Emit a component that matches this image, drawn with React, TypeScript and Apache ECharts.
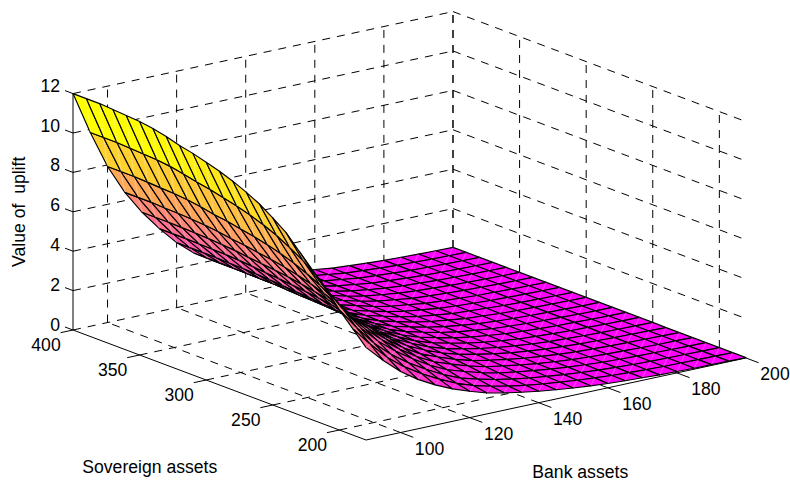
import React, { useEffect, useRef } from "react";
import * as echarts from "echarts";

const bankAssets = [90,95,100,105,110,115,120,125,130,135,140,145,150,155,160,165,170,175,180,185,190,195,200];
const sovereignAssets = [400,390,380,370,360,350,340,330,320,310,300,290,280,270,260,250,240,230,220,210,200,190,180];
// one row per bank value, columns follow sovereignAssets
const upliftRows = [
[12.0,12.0,12.0,11.95,11.9,11.85,11.75,11.6,11.4,11.25,11.05,10.85,10.6,10.3,9.95,9.5,9.0,8.3,7.6,6.9,6.1,5.4,4.7],
[9.84,9.84,9.84,9.80,9.76,9.72,9.64,9.51,9.35,9.23,9.06,8.90,8.69,8.45,8.16,7.79,7.38,6.81,6.23,5.66,5.00,4.43,3.85],
[7.92,7.92,7.92,7.89,7.85,7.82,7.76,7.66,7.52,7.43,7.29,7.16,7.00,6.80,6.57,6.27,5.94,5.48,5.02,4.55,4.03,3.56,3.10],
[6.42,6.42,6.42,6.39,6.37,6.34,6.29,6.21,6.10,6.02,5.91,5.80,5.67,5.51,5.32,5.08,4.82,4.44,4.07,3.69,3.26,2.89,2.51],
[5.22,5.22,5.22,5.20,5.18,5.15,5.11,5.05,4.96,4.89,4.81,4.72,4.61,4.48,4.33,4.13,3.92,3.61,3.31,3.00,2.65,2.35,2.04],
[4.20,4.20,4.20,4.18,4.17,4.15,4.11,4.06,3.99,3.94,3.87,3.80,3.71,3.61,3.48,3.33,3.15,2.91,2.66,2.42,2.14,1.89,1.65],
[3.30,3.30,3.30,3.29,3.27,3.26,3.23,3.19,3.14,3.09,3.04,2.98,2.92,2.83,2.74,2.61,2.48,2.28,2.09,1.90,1.68,1.49,1.34],
[2.58,2.58,2.58,2.57,2.56,2.55,2.53,2.49,2.45,2.42,2.38,2.33,2.28,2.21,2.14,2.04,1.94,1.78,1.63,1.48,1.31,1.18,1.06],
[2.04,2.04,2.04,2.03,2.02,2.01,2.00,1.97,1.94,1.91,1.88,1.84,1.80,1.75,1.69,1.62,1.53,1.43,1.32,1.20,1.07,0.96,0.88],
[1.56,1.56,1.56,1.55,1.55,1.54,1.53,1.51,1.48,1.46,1.44,1.41,1.38,1.34,1.30,1.25,1.19,1.12,1.04,0.95,0.86,0.78,0.72],
[1.20,1.20,1.20,1.20,1.19,1.19,1.18,1.16,1.14,1.13,1.11,1.09,1.07,1.04,1.01,0.97,0.93,0.87,0.81,0.75,0.69,0.63,0.58],
[0.96,0.96,0.96,0.96,0.95,0.95,0.94,0.93,0.91,0.90,0.88,0.87,0.85,0.83,0.80,0.77,0.74,0.70,0.66,0.61,0.56,0.51,0.47],
[0.72,0.72,0.72,0.72,0.71,0.71,0.71,0.70,0.69,0.68,0.67,0.66,0.65,0.63,0.62,0.60,0.58,0.55,0.52,0.49,0.45,0.41,0.37],
[0.54,0.54,0.54,0.54,0.54,0.53,0.53,0.52,0.52,0.51,0.51,0.50,0.49,0.48,0.47,0.46,0.44,0.42,0.40,0.38,0.35,0.32,0.29],
[0.42,0.42,0.42,0.42,0.41,0.41,0.41,0.41,0.40,0.39,0.39,0.38,0.38,0.37,0.36,0.35,0.34,0.33,0.31,0.29,0.27,0.25,0.22],
[0.30,0.30,0.30,0.30,0.30,0.30,0.29,0.29,0.29,0.28,0.28,0.28,0.27,0.27,0.26,0.26,0.25,0.24,0.23,0.22,0.20,0.18,0.17],
[0.24,0.24,0.24,0.24,0.23,0.23,0.23,0.23,0.22,0.22,0.22,0.21,0.21,0.21,0.20,0.19,0.19,0.18,0.17,0.16,0.15,0.14,0.13],
[0.18,0.18,0.18,0.18,0.18,0.18,0.17,0.17,0.17,0.17,0.16,0.16,0.16,0.15,0.15,0.15,0.14,0.14,0.13,0.12,0.11,0.10,0.09],
[0.13,0.13,0.13,0.13,0.13,0.13,0.13,0.12,0.12,0.12,0.12,0.12,0.12,0.11,0.11,0.11,0.11,0.10,0.10,0.09,0.08,0.07,0.07],
[0.10,0.10,0.10,0.10,0.10,0.10,0.10,0.10,0.09,0.09,0.09,0.09,0.09,0.09,0.09,0.08,0.08,0.08,0.07,0.07,0.06,0.06,0.05],
[0.07,0.07,0.07,0.07,0.07,0.07,0.07,0.07,0.07,0.07,0.07,0.07,0.06,0.06,0.06,0.06,0.06,0.06,0.05,0.05,0.05,0.04,0.04],
[0.05,0.05,0.05,0.05,0.05,0.05,0.05,0.05,0.05,0.05,0.05,0.04,0.04,0.04,0.04,0.04,0.04,0.04,0.04,0.03,0.03,0.03,0.03],
[0.03,0.03,0.03,0.03,0.03,0.03,0.03,0.03,0.03,0.03,0.03,0.03,0.03,0.03,0.03,0.03,0.02,0.02,0.02,0.02,0.02,0.02,0.02],
];

const bankTicks = [100,120,140,160,180,200];
const sovereignTicks = [400,350,300,250,200];
const upliftTicks = [0,2,4,6,8,10,12];
const axisNames = { bank: "Bank assets", sovereign: "Sovereign assets", uplift: "Value of  uplift" };

const BANK_MIN = 90, BANK_MAX = 200, SOV_MIN = 180, SOV_MAX = 400, Z_MAX = 12;
const FONT = '17.6px "Liberation Sans", Arial, sans-serif';

// orthographic view of the box: returns a point in the plane of the hidden cartesian axes
const project = (b: number, s: number, z: number): number[] => [
  73 + (b - BANK_MIN) * 3.4545 + (SOV_MAX - s) * 1.3318,
  330 - (b - BANK_MIN) * 0.7455 + (SOV_MAX - s) * 0.5 - z * 19.7,
];

type Seg = [number, number, number, number, number, number];
const gridSegs: Seg[] = [];
upliftTicks.forEach((z) => {
  gridSegs.push([BANK_MIN, SOV_MAX, z, BANK_MAX, SOV_MAX, z]);
  gridSegs.push([BANK_MAX, SOV_MAX, z, BANK_MAX, SOV_MIN, z]);
});
bankTicks.forEach((b) => {
  gridSegs.push([b, SOV_MAX, 0, b, SOV_MAX, Z_MAX]);
  if (b !== BANK_MAX) gridSegs.push([b, SOV_MIN, 0, b, SOV_MAX, 0]);
});
sovereignTicks.forEach((s) => {
  gridSegs.push([BANK_MAX, s, 0, BANK_MAX, s, Z_MAX]);
  if (s !== SOV_MAX) gridSegs.push([BANK_MIN, s, 0, BANK_MAX, s, 0]);
});

const axisSegs: Seg[] = [
  [BANK_MIN, SOV_MAX, 0, BANK_MIN, SOV_MIN, 0],
  [BANK_MIN, SOV_MIN, 0, BANK_MAX, SOV_MIN, 0],
  [BANK_MIN, SOV_MAX, 0, BANK_MIN, SOV_MAX, Z_MAX],
];
sovereignTicks.forEach((s) => axisSegs.push([BANK_MIN, s, 0, BANK_MIN - 3.6, s, 0]));
bankTicks.forEach((b) => axisSegs.push([b, SOV_MIN, 0, b, SOV_MIN - 9.5, 0]));
upliftTicks.forEach((z) => axisSegs.push([BANK_MIN, SOV_MAX, z, BANK_MIN, SOV_MAX + 6, z]));

const cells: number[][] = [];
for (let i = 0; i < sovereignAssets.length - 1; i++) {
  for (let j = bankAssets.length - 2; j >= 0; j--) cells.push([j, i]);
}

const spring = (z: number) => {
  const t = Math.min(1, Math.max(0, z / Z_MAX));
  return `rgb(255,${Math.round(255 * t)},${Math.round(255 * (1 - t))})`;
};

type Lbl = { text: string; p: number[]; dx: number; dy: number; align: string; rot?: number };
const labels: Lbl[] = [
  ...upliftTicks.map((z) => ({ text: String(z), p: [BANK_MIN, SOV_MAX, z], dx: -13, dy: -5 - z * 0.25, align: "right" })),
  ...sovereignTicks.map((s) => ({ text: String(s), p: [BANK_MIN, s, 0], dx: -27, dy: 15, align: "center" })),
  ...bankTicks.map((b) => ({ text: String(b), p: [b, SOV_MIN, 0], dx: 29, dy: 16, align: "center" })),
  { text: axisNames.sovereign, p: [BANK_MIN, 250, 0], dx: -123, dy: 62, align: "center" },
  { text: axisNames.bank, p: [150, SOV_MIN, 0], dx: 7, dy: 77, align: "center" },
  { text: axisNames.uplift, p: [BANK_MIN, SOV_MAX, 6], dx: -54, dy: 0, align: "center", rot: Math.PI / 2 },
];

const segRender = (segs: Seg[], lineDash: number[] | null, stroke: string, lineWidth: number) =>
  (params: any, api: any) => {
    const g = segs[params.dataIndex];
    const a = api.coord(project(g[0], g[1], g[2]));
    const b = api.coord(project(g[3], g[4], g[5]));
    return {
      type: "line",
      shape: { x1: a[0], y1: a[1], x2: b[0], y2: b[1] },
      style: { stroke, lineWidth, lineDash: lineDash || undefined, fill: null },
    };
  };

export default function App() {
  const ref = useRef<HTMLDivElement>(null);
  useEffect(() => {
    document.body.style.margin = "0";
    document.body.style.background = "#fff";
    const chart = echarts.init(ref.current!, undefined, { renderer: "svg" });
    const point = (api: any, j: number, i: number) =>
      api.coord(project(bankAssets[j], sovereignAssets[i], upliftRows[j][i]));
    chart.setOption({
      animation: false,
      backgroundColor: "#fff",
      grid: { left: 0, right: 0, top: 0, bottom: 0 },
      xAxis: { type: "value", min: 0, max: 790, show: false },
      yAxis: { type: "value", min: 0, max: 481, inverse: true, show: false },
      series: [
        {
          type: "custom", silent: true, clip: false, z: 1, progressive: 0,
          data: gridSegs.map((_, k) => [k, 0]),
          renderItem: segRender(gridSegs, [8, 7], "#000", 1),
        },
        {
          type: "custom", silent: true, clip: false, z: 2, progressive: 0,
          data: axisSegs.map((_, k) => [k, 0]),
          renderItem: segRender(axisSegs, null, "#000", 1),
        },
        {
          type: "custom", silent: true, clip: false, z: 3, progressive: 0,
          data: cells,
          renderItem: (params: any, api: any) => {
            const [j, i] = cells[params.dataIndex];
            const p00 = point(api, j, i);
            const p10 = point(api, j + 1, i);
            const p11 = point(api, j + 1, i + 1);
            const p01 = point(api, j, i + 1);
            return {
              type: "group",
              children: [
                {
                  type: "polygon",
                  shape: { points: [p00, p10, p11, p01] },
                  style: { fill: spring(upliftRows[j][i + 1]), stroke: "#000", lineWidth: 1.15, lineJoin: "round" },
                },
                {
                  type: "line",
                  shape: { x1: p10[0], y1: p10[1], x2: p01[0], y2: p01[1] },
                  style: { stroke: "rgba(255,255,255,0.4)", lineWidth: 0.7, fill: null },
                },
              ],
            };
          },
        },
        {
          type: "custom", silent: true, clip: false, z: 4, progressive: 0,
          data: labels.map((_, k) => [k, 0]),
          renderItem: (params: any, api: any) => {
            const l = labels[params.dataIndex];
            const c = api.coord(project(l.p[0], l.p[1], l.p[2]));
            return {
              type: "text",
              x: c[0] + l.dx,
              y: c[1] + l.dy,
              rotation: l.rot || 0,
              style: { text: l.text, font: FONT, fill: "#000", align: l.align, verticalAlign: "middle" },
            };
          },
        },
      ],
    });
    return () => chart.dispose();
  }, []);
  return <div ref={ref} style={{ position: "absolute", left: 0, top: 0, width: 790, height: 481 }} />;
}
